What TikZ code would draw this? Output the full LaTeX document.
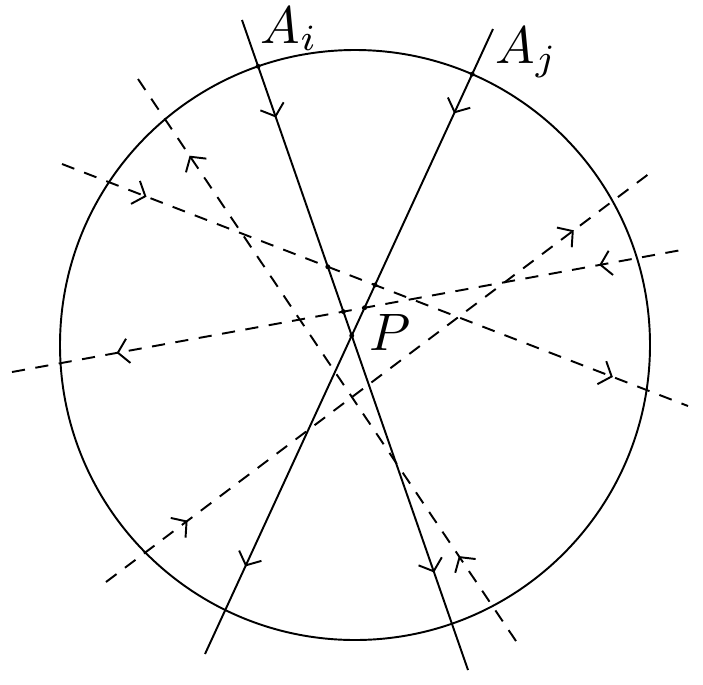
\documentclass[tikz,border=0pt]{standalone}
\usetikzlibrary{arrows.meta,decorations.markings,intersections}
\begin{document}
\begin{tikzpicture}[x=0.02cm, y=-0.02cm, line width=1.1pt,
		>={Straight Barb[length=6pt,width=14pt]},
		fwd/.style 2 args={postaction={decorate}, decoration={markings,
			mark=at position #1 with {\arrow{>}}, mark=at position #2 with {\arrow{>}}}},
		bwd/.style 2 args={postaction={decorate}, decoration={markings,
			mark=at position #1 with {\arrowreversed{>}}, mark=at position #2 with {\arrowreversed{>}}}},
		dashray/.style={dash pattern=on 7.5pt off 6pt},
		dot/.style={fill=black},
		lbl/.style={anchor=base west, inner sep=0pt, scale=3}]
	\useasboundingbox (0,0) rectangle (703,684);
	% end points
	\coordinate (O) at (355,345);
	\coordinate (ai1) at (242,20);
	\coordinate (ai2) at (468,670);
	\coordinate (aj1) at (493,29);
	\coordinate (aj2) at (205,654);
	\coordinate (d11) at (138,79);
	\coordinate (d12) at (520,647);
	\coordinate (d21) at (62,164);
	\coordinate (d22) at (688,406);
	\coordinate (d31) at (12,372);
	\coordinate (d32) at (687,249);
	\coordinate (d41) at (106,582);
	\coordinate (d42) at (650,173);
	% circle and rays
	\draw[name path=circ] (O) circle (295);
	\draw[name path=ai, fwd={0.15}{0.85}] (ai1) -- (ai2);
	\draw[name path=aj, fwd={0.135}{0.86}] (aj1) -- (aj2);
	\draw[name path=d1, dashray, bwd={0.135}{0.84}] (d11) -- (d12);
	\draw[name path=d2, dashray, fwd={0.135}{0.88}] (d21) -- (d22);
	\draw[name path=d3, dashray, bwd={0.155}{0.87}] (d31) -- (d32);
	\draw[name path=d4, dashray, fwd={0.15}{0.86}] (d41) -- (d42);
	% dots
	\path[name intersections={of=ai and circ, sort by=ai, by={ci1,ci2}}];
	\path[name intersections={of=aj and circ, sort by=aj, by={cj1,cj2}}];
	\path[name intersections={of=ai and aj, by=P}];
	\path[name intersections={of=ai and d2, by=x1}];
	\path[name intersections={of=aj and d2, by=x2}];
	\path[name intersections={of=ai and d3, by=x3}];
	\path[name intersections={of=aj and d3, by=x4}];
	\foreach \p in {ci1,cj1,P,x1,x2,x3,x4}
		\fill[dot] (\p) circle (1.4pt);
	% labels
	\node[lbl] (lai) at (258,43) {$A_i$};
	\node[lbl] (laj) at (493,63) {$A_j$};
	\node[lbl] (lp) at (367,350) {$P$};
\end{tikzpicture}
\end{document}
